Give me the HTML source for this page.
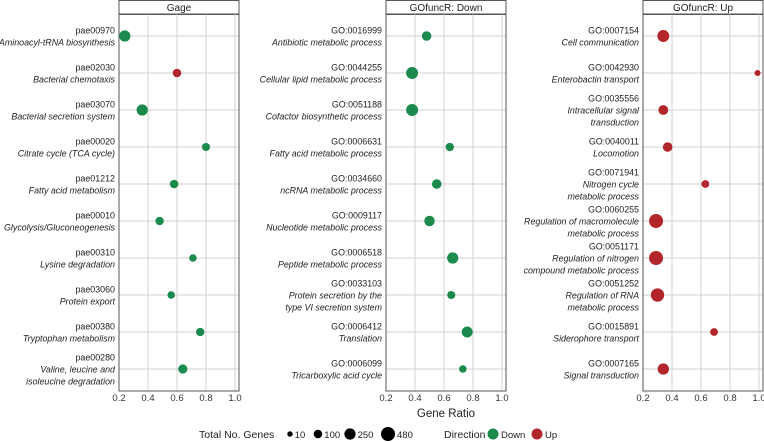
<!DOCTYPE html>
<html><head><meta charset="utf-8"><style>
body{margin:0;background:#fff;}
svg{display:block;font-family:"Liberation Sans",sans-serif;}
</style></head><body>
<svg id="c" width="764" height="442" viewBox="0 0 764 442"></svg>
<script>
const panelTitles = ["Gage","GOfuncR: Down","GOfuncR: Up"];
const ids1 = ["pae00970","pae02030","pae03070","pae00020","pae01212","pae00010","pae00310","pae03060","pae00380","pae00280"];
const names1 = [["Aminoacyl-tRNA biosynthesis"],["Bacterial chemotaxis"],["Bacterial secretion system"],["Citrate cycle (TCA cycle)"],["Fatty acid metabolism"],["Glycolysis/Gluconeogenesis"],["Lysine degradation"],["Protein export"],["Tryptophan metabolism"],["Valine, leucine and","isoleucine degradation"]];
const ratio1 = [0.24,0.60,0.36,0.80,0.58,0.48,0.71,0.56,0.76,0.64];
const genes1 = [250,100,250,80,100,90,60,60,90,130];
const dir1 = ["Down","Up","Down","Down","Down","Down","Down","Down","Down","Down"];
const ids2 = ["GO:0016999","GO:0044255","GO:0051188","GO:0006631","GO:0034660","GO:0009117","GO:0006518","GO:0033103","GO:0006412","GO:0006099"];
const names2 = [["Antibiotic metabolic process"],["Cellular lipid metabolic process"],["Cofactor biosynthetic process"],["Fatty acid metabolic process"],["ncRNA metabolic process"],["Nucleotide metabolic process"],["Peptide metabolic process"],["Protein secretion by the","type VI secretion system"],["Translation"],["Tricarboxylic acid cycle"]];
const ratio2 = [0.48,0.38,0.38,0.64,0.55,0.50,0.66,0.65,0.76,0.73];
const genes2 = [150,300,300,90,150,200,250,80,230,60];
const dir2 = ["Down","Down","Down","Down","Down","Down","Down","Down","Down","Down"];
const ids3 = ["GO:0007154","GO:0042930","GO:0035556","GO:0040011","GO:0071941","GO:0060255","GO:0051171","GO:0051252","GO:0015891","GO:0007165"];
const names3 = [["Cell communication"],["Enterobactin transport"],["Intracellular signal","transduction"],["Locomotion"],["Nitrogen cycle","metabolic process"],["Regulation of macromolecule","metabolic process"],["Regulation of nitrogen","compound metabolic process"],["Regulation of RNA","metabolic process"],["Siderophore transport"],["Signal transduction"]];
const ratio3 = [0.34,0.99,0.34,0.37,0.63,0.29,0.29,0.30,0.69,0.34];
const genes3 = [300,20,160,150,70,480,480,420,70,260];
const dir3 = ["Up","Up","Up","Up","Up","Up","Up","Up","Up","Up"];
const xTicks = [0.2,0.4,0.6,0.8,1.0];
const legendSizes = [10,100,250,480];

const svg=document.getElementById('c');
const NS="http://www.w3.org/2000/svg";
function mk(t,a,p){const e=document.createElementNS(NS,t);for(const k in a)e.setAttribute(k,a[k]);(p||svg).appendChild(e);return e;}
const colors={Down:"#1b8a4c",Up:"#b2262b"};
function rad(n){return 2+5*Math.sqrt(n/480);}
const panels=[{l:119,r:239,ids:ids1,names:names1,ratio:ratio1,genes:genes1,dir:dir1},
{l:386,r:506,ids:ids2,names:names2,ratio:ratio2,genes:genes2,dir:dir2},
{l:643,r:763,ids:ids3,names:names3,ratio:ratio3,genes:genes3,dir:dir3}];
const topY=14,botY=391;
function yRow(i){return 36+i*37;}
panels.forEach((p,pi)=>{
  const xs=v=>p.l+(v-0.2)*145;
  const g=mk('g',{});
  
  
  const hd=mk('rect',{x:p.l,y:0.5,width:p.r-p.l,height:topY,fill:'#fff',stroke:'#555','stroke-width':1},g);
  
  
  const ht=mk('text',{x:(p.l+p.r)/2,y:11,'text-anchor':'middle','font-size':10,fill:'#222'},g);
  ht.textContent=panelTitles[pi];
  
  
  xTicks.forEach(t=>{mk('line',{x1:xs(t),x2:xs(t),y1:topY,y2:botY,stroke:'#d0d0d0','stroke-width':1},g);});
  p.ids.forEach((id,i)=>{mk('line',{x1:p.l,x2:p.r,y1:yRow(i),y2:yRow(i),stroke:'#d0d0d0','stroke-width':1},g);});
  mk('rect',{x:p.l,y:topY,width:p.r-p.l,height:botY-topY,fill:'none',stroke:'#555','stroke-width':1},g);
  xTicks.forEach(t=>{const tx=mk('text',{x:xs(t),y:botY+10,'text-anchor':'middle','font-size':9.5,fill:'#333'},g);tx.textContent=t.toFixed(1);
    
    });
  p.ids.forEach((id,i)=>{
    const lines=[id].concat(p.names[i]);
    const n=lines.length, y0=yRow(i)-(n-1)*12/2;
    const lab=mk('text',{'text-anchor':'end','font-size':8.9,fill:'#222'},g);
    
    
    lines.forEach((s,k)=>{const ts=mk('tspan',{x:p.l-4,y:y0+k*12+3.5,'font-style':k?'italic':'normal'},lab);ts.textContent=s;});
    const c=mk('circle',{cx:xs(p.ratio[i]),cy:yRow(i),r:rad(p.genes[i]),fill:colors[p.dir[i]]},g);
    
    
  });
});
const gr=mk('text',{x:446,y:417,'text-anchor':'middle','font-size':11.5,fill:'#222'});gr.textContent="Gene Ratio";


const lg=mk('g',{});


const lt=mk('text',{x:199,y:438,'font-size':10.5,fill:'#222'},lg);lt.textContent="Total No. Genes";
const lx=[290,318,350,388];
legendSizes.forEach((s,i)=>{
  const c=mk('circle',{cx:lx[i],cy:434,r:rad(s),fill:'#000'},lg);
  
  
  const t=mk('text',{x:lx[i]+rad(s)+2,y:438,'font-size':9.5,fill:'#222'},lg);t.textContent=s;
});
const dt=mk('text',{x:444,y:438,'font-size':10.5,fill:'#222'},lg);dt.textContent="Direction";
[["Down",493],["Up",537]].forEach(([d,x])=>{
  const c=mk('circle',{cx:x,cy:434,r:5.5,fill:colors[d]},lg);
  
  
  const t=mk('text',{x:x+8,y:438,'font-size':9.5,fill:'#222'},lg);t.textContent=d;
});
</script>
</body></html>
